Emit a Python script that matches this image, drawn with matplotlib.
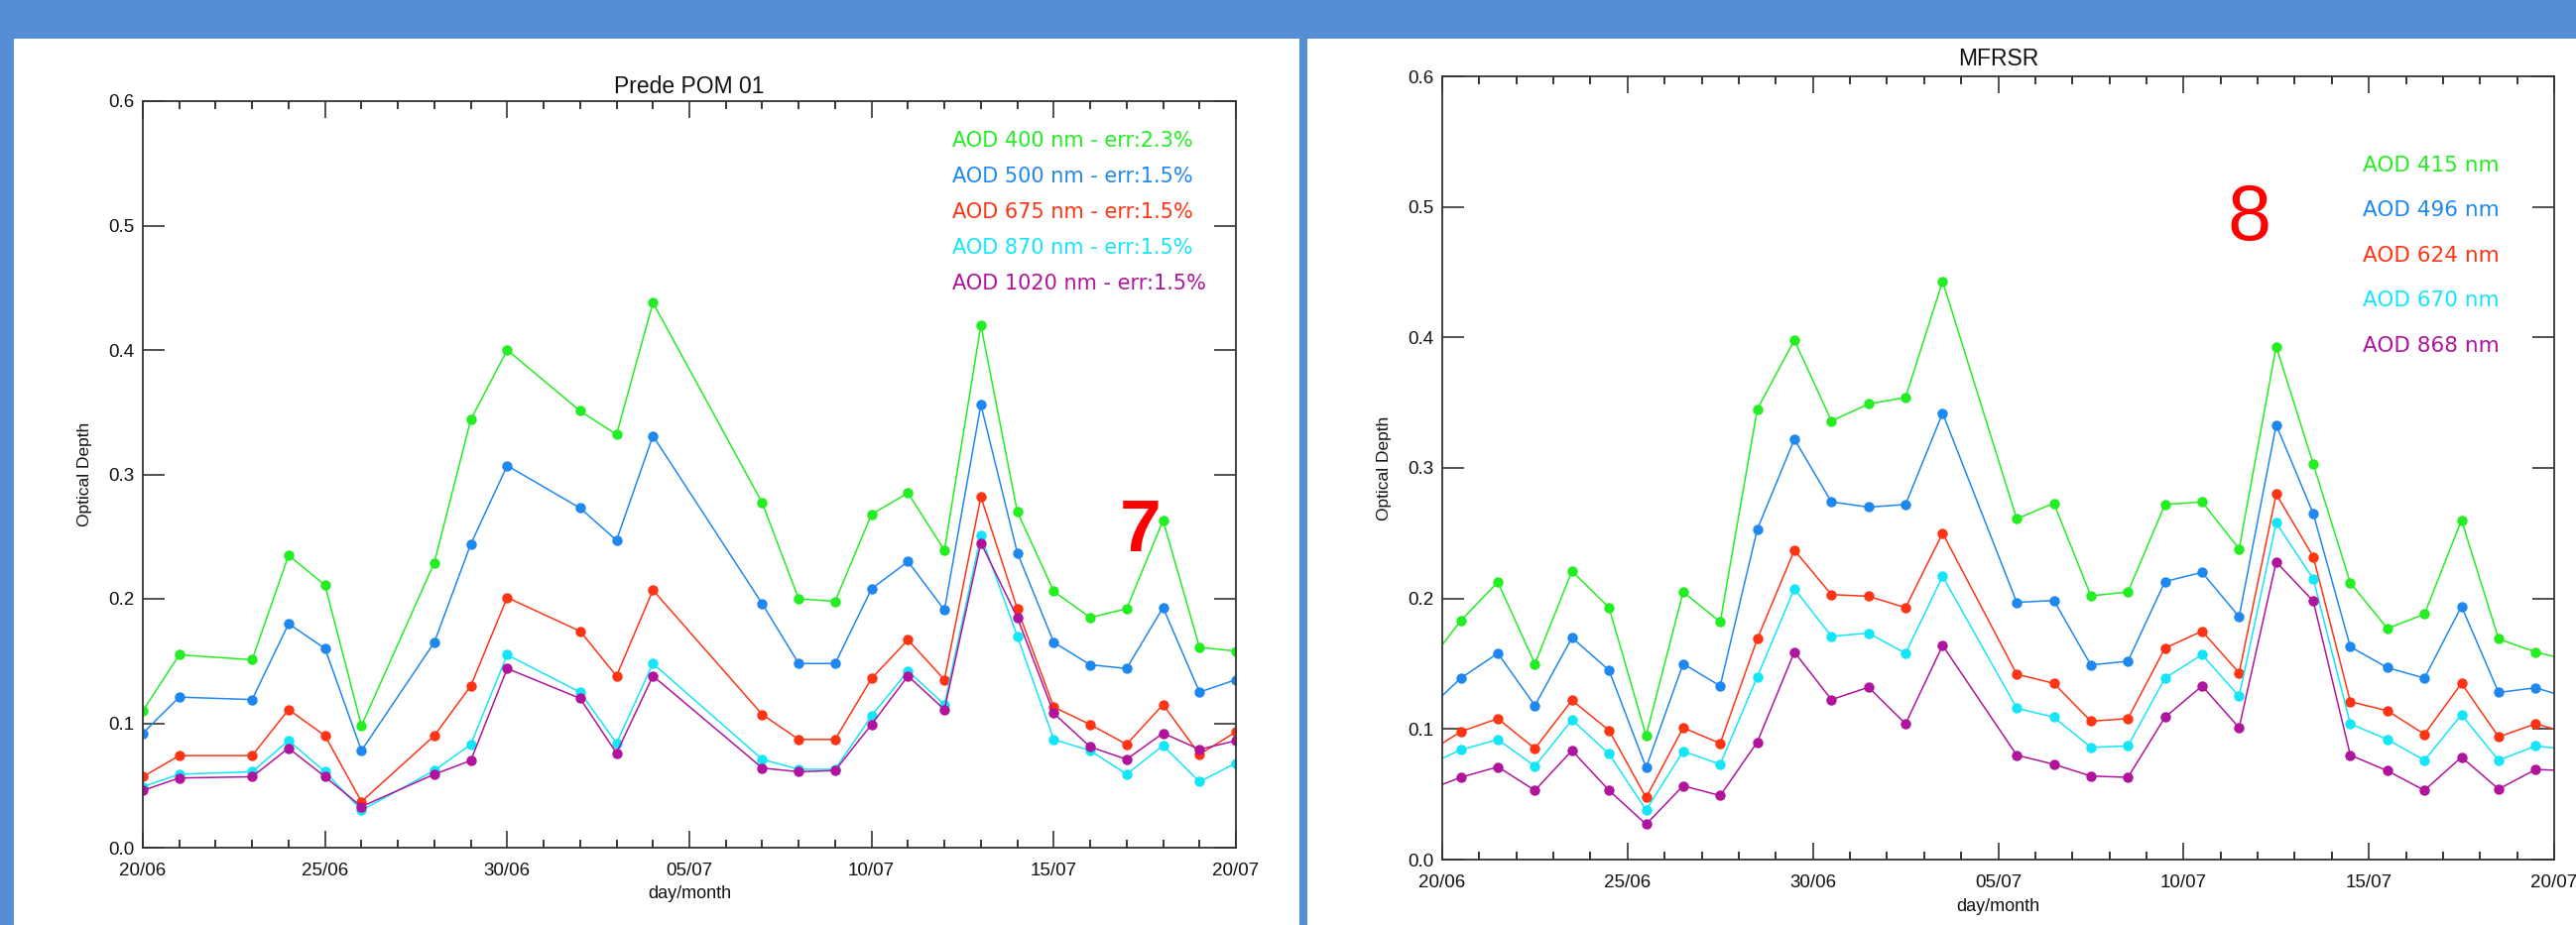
import matplotlib
matplotlib.use("Agg")
import matplotlib.pyplot as plt
from matplotlib.patches import Rectangle
from matplotlib.ticker import MultipleLocator

# ---- dados: dias contados a partir de 20/06 ----
dias_prede = [0, 1, 3, 4, 5, 6, 8, 9, 10, 12, 13, 14, 17, 18, 19, 20, 21, 22, 23, 24, 25, 26, 27, 28, 29, 30]
p_400 = [0.110, 0.155, 0.151, 0.235, 0.211, 0.098, 0.229, 0.344, 0.400, 0.351, 0.332, 0.438, 0.277,
         0.200, 0.198, 0.268, 0.285, 0.239, 0.420, 0.270, 0.206, 0.185, 0.192, 0.263, 0.161, 0.158]
p_500 = [0.092, 0.121, 0.119, 0.180, 0.160, 0.078, 0.165, 0.244, 0.307, 0.273, 0.247, 0.331, 0.196,
         0.148, 0.148, 0.208, 0.230, 0.191, 0.356, 0.237, 0.165, 0.147, 0.144, 0.193, 0.125, 0.135]
p_675 = [0.057, 0.074, 0.074, 0.111, 0.090, 0.037, 0.090, 0.130, 0.201, 0.174, 0.138, 0.207, 0.107,
         0.087, 0.087, 0.136, 0.167, 0.135, 0.282, 0.192, 0.113, 0.099, 0.083, 0.115, 0.075, 0.093]
p_870 = [0.049, 0.059, 0.061, 0.086, 0.061, 0.030, 0.062, 0.083, 0.155, 0.125, 0.084, 0.148, 0.071,
         0.063, 0.063, 0.106, 0.142, 0.115, 0.251, 0.170, 0.087, 0.078, 0.059, 0.082, 0.053, 0.068]
p_1020 = [0.046, 0.056, 0.057, 0.080, 0.057, 0.033, 0.059, 0.070, 0.144, 0.120, 0.076, 0.138, 0.064,
          0.061, 0.062, 0.099, 0.138, 0.111, 0.245, 0.185, 0.108, 0.081, 0.071, 0.092, 0.079, 0.086]

dias_mfrsr = [-0.5, 0.5, 1.5, 2.5, 3.5, 4.5, 5.5, 6.5, 7.5, 8.5, 9.5, 10.5, 11.5, 12.5, 13.5,
              15.5, 16.5, 17.5, 18.5, 19.5, 20.5, 21.5, 22.5, 23.5, 24.5, 25.5, 26.5, 27.5, 28.5, 29.5, 30.5]
m_415 = [0.146, 0.183, 0.2125, 0.150, 0.221, 0.193, 0.095, 0.205, 0.182, 0.345, 0.398, 0.336, 0.349, 0.354, 0.443,
         0.261, 0.273, 0.202, 0.205, 0.272, 0.274, 0.238, 0.393, 0.303, 0.212, 0.177, 0.188, 0.260, 0.169, 0.159, 0.152]
m_496 = [0.112, 0.139, 0.158, 0.118, 0.170, 0.145, 0.0705, 0.150, 0.133, 0.253, 0.322, 0.274, 0.270, 0.272, 0.342,
         0.197, 0.1985, 0.149, 0.152, 0.213, 0.220, 0.186, 0.333, 0.265, 0.163, 0.147, 0.139, 0.194, 0.128, 0.1316, 0.123]
m_624 = [0.080, 0.098, 0.108, 0.085, 0.122, 0.099, 0.0475, 0.101, 0.089, 0.169, 0.237, 0.203, 0.2017, 0.193, 0.250,
         0.142, 0.135, 0.106, 0.108, 0.162, 0.175, 0.143, 0.280, 0.232, 0.121, 0.114, 0.096, 0.135, 0.094, 0.104, 0.096]
m_670 = [0.071, 0.084, 0.092, 0.0715, 0.107, 0.081, 0.038, 0.083, 0.073, 0.140, 0.2075, 0.171, 0.1735, 0.158, 0.217,
         0.116, 0.109, 0.086, 0.087, 0.139, 0.157, 0.125, 0.258, 0.215, 0.104, 0.092, 0.076, 0.111, 0.076, 0.087, 0.084]
m_868 = [0.052, 0.063, 0.071, 0.053, 0.0835, 0.053, 0.027, 0.0565, 0.049, 0.090, 0.159, 0.1225, 0.132, 0.104, 0.164,
         0.080, 0.073, 0.064, 0.063, 0.109, 0.133, 0.101, 0.228, 0.198, 0.080, 0.068, 0.053, 0.0785, 0.054, 0.069, 0.068]

xt_pos = [0, 5, 10, 15, 20, 25, 30]
xt_lab = ["20/06", "25/06", "30/06", "05/07", "10/07", "15/07", "20/07"]
yt_pos = [0.0, 0.1, 0.2, 0.3, 0.4, 0.5, 0.6]
yt_lab = ["0.0", "0.1", "0.2", "0.3", "0.4", "0.5", "0.6"]

cores = ["#22ee22", "#1e88f0", "#ff3414", "#14e6fa", "#b0149c"]
leg_prede = ["AOD 400 nm - err:2.3%", "AOD 500 nm - err:1.5%", "AOD 675 nm - err:1.5%",
             "AOD 870 nm - err:1.5%", "AOD 1020 nm - err:1.5%"]
leg_mfrsr = ["AOD 415 nm", "AOD 496 nm", "AOD 624 nm", "AOD 670 nm", "AOD 868 nm"]

plt.rcParams["font.family"] = ["Liberation Sans", "DejaVu Sans"]

W, H = 2597, 933
fig = plt.figure(figsize=(W / 100, H / 100), dpi=100)
fig.patch.set_facecolor("#558ed5")
# paineis brancos (atras dos eixos)
for x0, x1 in [(14, 1310), (1318, W)]:
    fig.add_artist(Rectangle((x0 / W, 0), (x1 - x0) / W, (H - 39) / H, transform=fig.transFigure,
                             facecolor="white", edgecolor="none", zorder=-5))

def eixo(px0, px1, ptop, pbot):
    return fig.add_axes([px0 / W, (H - pbot) / H, (px1 - px0) / W, (pbot - ptop) / H])

def estilo(ax, titulo, tpad, lab_x, lab_y):
    ax.set_xlim(0, 30); ax.set_ylim(0, 0.6)
    ax.set_xticks(xt_pos); ax.set_xticklabels(xt_lab)
    ax.xaxis.set_minor_locator(MultipleLocator(1))
    ax.set_yticks(yt_pos); ax.set_yticklabels(yt_lab)
    ax.tick_params(axis="x", which="major", direction="in", length=12, width=1.1, top=True,
                   pad=11, labelsize=13.5, colors="#222222")
    ax.tick_params(axis="x", which="minor", direction="in", length=6, width=1.1, top=True)
    ax.tick_params(axis="y", which="major", direction="in", length=16, width=1.1, right=True,
                   pad=6, labelsize=13.5, colors="#222222")
    for s in ax.spines.values():
        s.set_linewidth(1.3); s.set_color("#333333")
    ax.set_title(titulo, fontsize=16.5, pad=tpad, color="#111111")
    ax.set_ylabel("Optical Depth", fontsize=12.5, color="#111111")
    ax.set_xlabel("day/month", fontsize=13, color="#111111")
    ax.yaxis.set_label_coords(lab_y, 0.5)
    ax.xaxis.set_label_coords(0.5, lab_x)
    for t in ax.get_xticklabels() + ax.get_yticklabels():
        t.set_color("#111111")

# ---- Prede POM 01 ----
ax1 = eixo(144, 1246, 102, 855)
for y, c in zip([p_400, p_500, p_675, p_870, p_1020], cores):
    ax1.plot(dias_prede, y, "-o", color=c, lw=1.1, ms=7.5, mew=0)
estilo(ax1, "Prede POM 01", 6, -38 / 753, -51 / 1102)
for i, (t, c) in enumerate(zip(leg_prede, cores)):
    ax1.text(0.7405, 0.9469 - 0.0478 * i, t, color=c, fontsize=15, family="DejaVu Sans",
             ha="left", va="center", transform=ax1.transAxes)
ax1.text(0.9129, 0.4236, "7", color="red", fontsize=54, fontweight="bold",
         ha="center", va="center", transform=ax1.transAxes)

# ---- MFRSR ----
ax2 = eixo(1454, 2575, 77, 867)
for y, c in zip([m_415, m_496, m_624, m_670, m_868], cores):
    ax2.plot(dias_mfrsr, y, "-o", color=c, lw=1.1, ms=7.5, mew=0)
estilo(ax2, "MFRSR", 8, -39 / 790, -51 / 1121)
for i, (t, c) in enumerate(zip(leg_mfrsr, cores)):
    ax2.text(0.8278, 0.8861 - 0.0576 * i, t, color=c, fontsize=15.5, family="DejaVu Sans",
             ha="left", va="center", transform=ax2.transAxes)
ax2.text(0.7257, 0.8171, "8", color="red", fontsize=57,
         ha="center", va="center", transform=ax2.transAxes)

fig.savefig("out.png", dpi=100, facecolor=fig.get_facecolor())
